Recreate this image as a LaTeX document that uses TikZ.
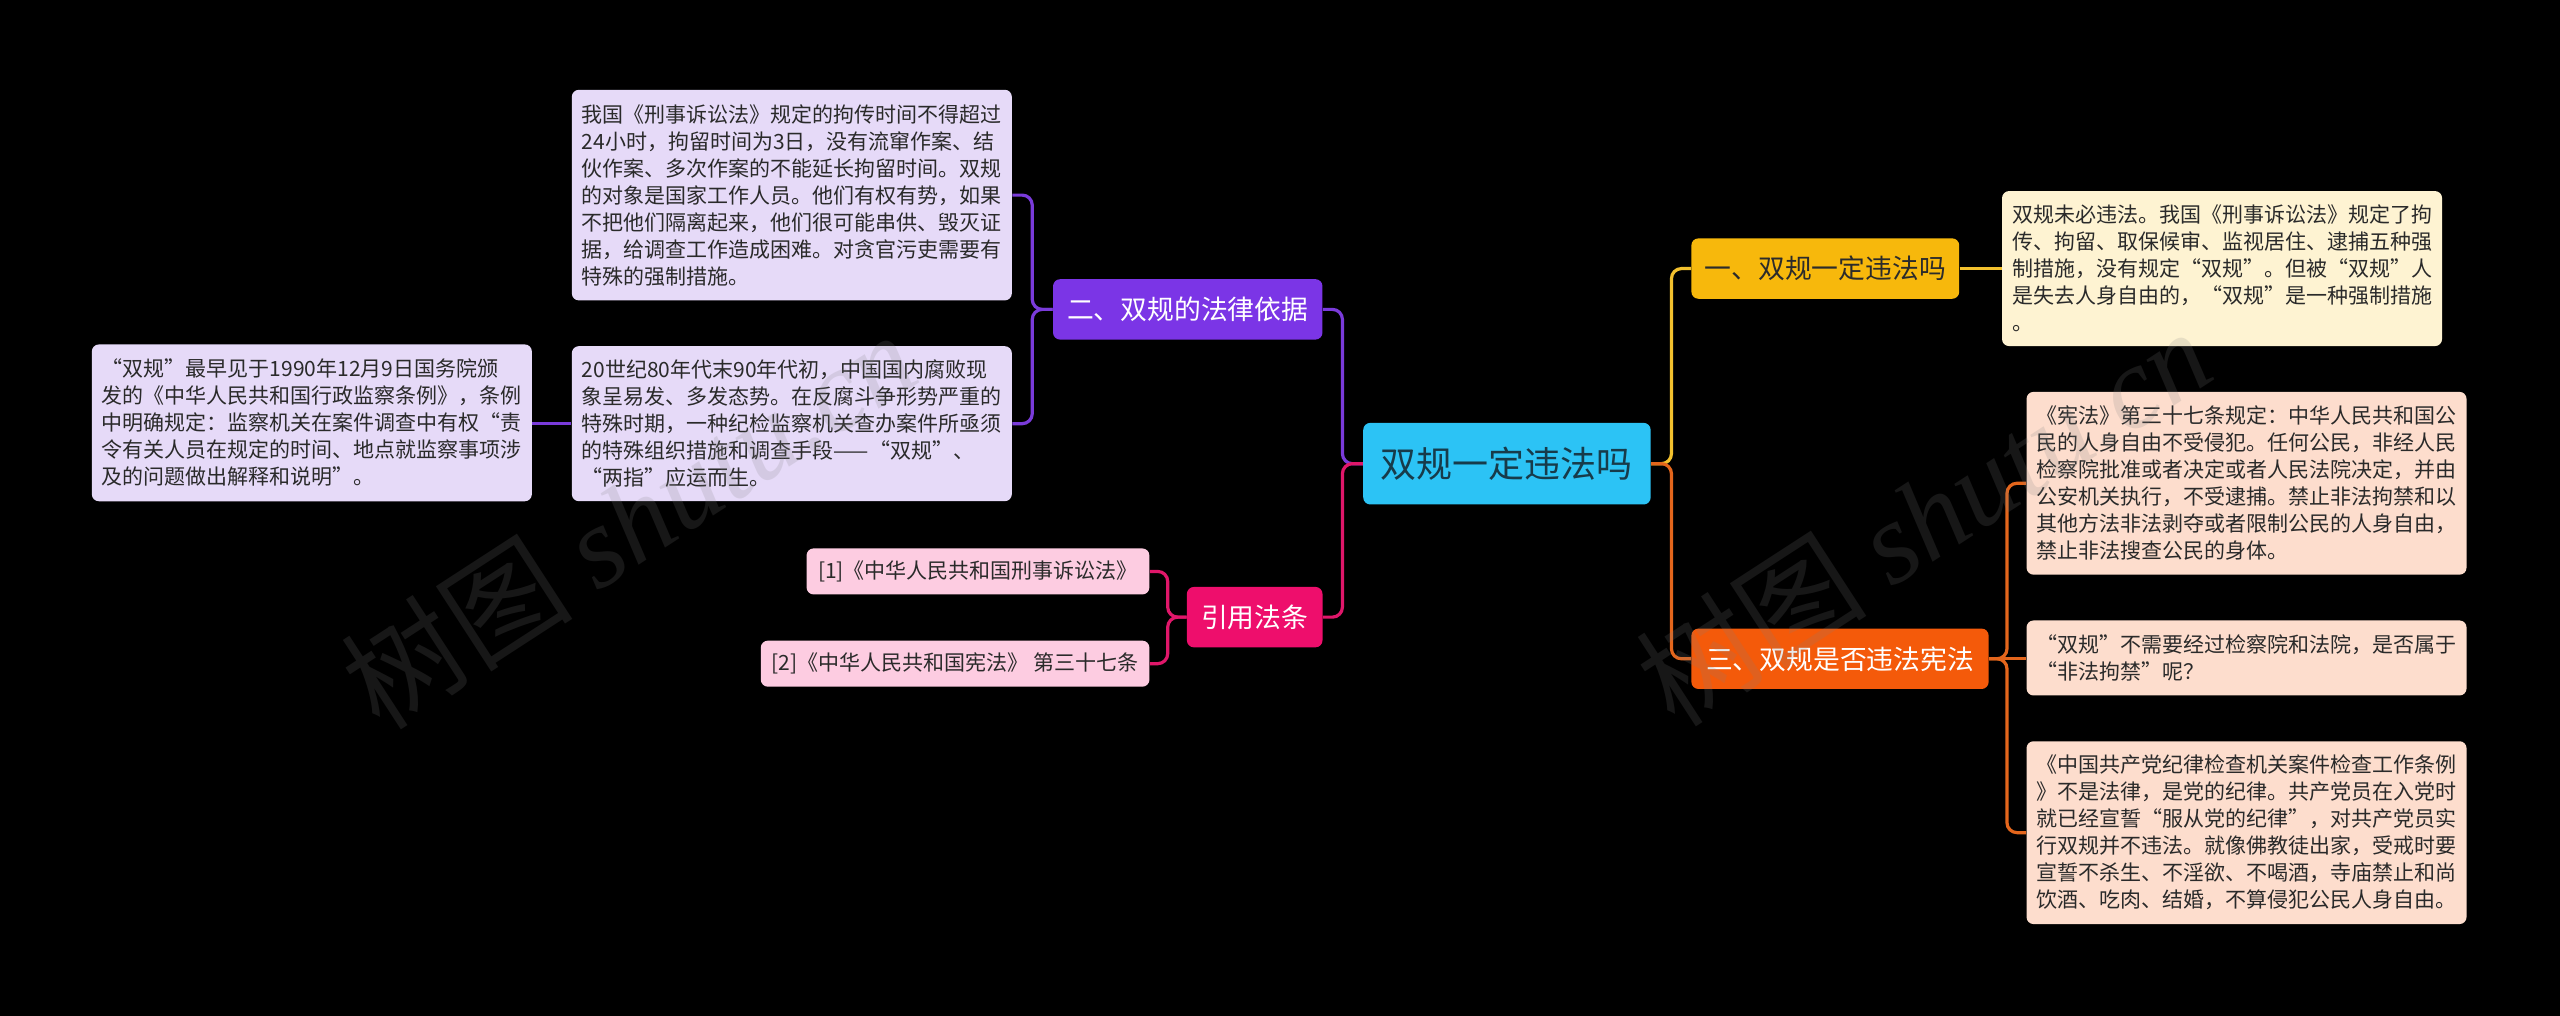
\documentclass[tikz,border=0pt]{standalone}
\usepackage{fontspec}
\setmainfont{Noto Sans CJK SC}
\newfontfamily\wmlatin{Liberation Serif}
\usetikzlibrary{calc}
\definecolor{rootfill}{HTML}{2CC3F5}
\definecolor{roottext}{HTML}{173B4A}
\definecolor{bAfill}{HTML}{F7B80C}
\definecolor{lAfill}{HTML}{FEF3D2}
\definecolor{cA}{HTML}{F3C12E}
\definecolor{bCfill}{HTML}{F45A0A}
\definecolor{lCfill}{HTML}{FDDDCD}
\definecolor{cC}{HTML}{E4661C}
\definecolor{bBfill}{HTML}{7B35E6}
\definecolor{lBfill}{HTML}{E6DAF8}
\definecolor{cB}{HTML}{7A3BDA}
\definecolor{bDfill}{HTML}{EE0E6C}
\definecolor{lDfill}{HTML}{FDCCE1}
\definecolor{cD}{HTML}{E0176A}
\definecolor{leaftext}{HTML}{2A2A2A}
\definecolor{darktext}{HTML}{2B2B2B}
\tikzset{
  box/.style={rounded corners=3.5pt, inner xsep=5pt, inner ysep=1pt, anchor=center},
  leafbox/.style={box, text width=210pt, align=left, text=leaftext,
    font=\fontsize{10.5}{13.5}\selectfont},
  citebox/.style={box, text=leaftext, fill=lDfill, minimum height=23pt,
    font=\fontsize{10.5}{13.5}\selectfont},
  branchbox/.style={box, minimum height=30.2pt, font=\fontsize{13.4}{16}\selectfont},
  ln/.style={line width=1.6pt, rounded corners=5pt},
  wm/.style={rotate=33, text=gray, opacity=0.18, font=\fontsize{58}{60}\selectfont}
}
\begin{document}
\begin{tikzpicture}[x=0.8163pt,y=-0.8163pt]
\fill[black] (0,0) rectangle (1568,622);
\useasboundingbox (0,0) rectangle (1568,622);

% root
\node[box, fill=rootfill, text=roottext, minimum width=143.7pt, minimum height=40.8pt,
  font=\fontsize{18}{20}\selectfont] (root) at (923,284) {双规一定违法吗};

% branches
\node[branchbox, fill=bAfill, text=darktext, minimum width=133.9pt] (b1) at (1118,164.5) {一、双规一定违法吗};
\node[branchbox, fill=bCfill, text=white, minimum width=148.6pt] (b3) at (1127,403.5) {三、双规是否违法宪法};
\node[branchbox, fill=bBfill, text=white, minimum width=134.7pt] (b2) at (727.5,189.5) {二、双规的法律依据};
\node[branchbox, fill=bDfill, text=white, minimum width=67.8pt] (b4) at (768.5,378) {引用法条};

% leaves of branch 1
\node[leafbox, fill=lAfill, minimum height=77.5pt] (l1) at (1361,164.5) {双规未必违法。我国《刑事诉讼法》规定了拘\\传、拘留、取保候审、监视居住、逮捕五种强\\制措施，没有规定“双规”。但被“双规”人\\是失去人身自由的，“双规”是一种强制措施\\。};

% leaves of branch 3
\node[leafbox, fill=lCfill, minimum height=91.4pt] (l3a) at (1376,296) {《宪法》第三十七条规定：中华人民共和国公\\民的人身自由不受侵犯。任何公民，非经人民\\检察院批准或者决定或者人民法院决定，并由\\公安机关执行，不受逮捕。禁止非法拘禁和以\\其他方法非法剥夺或者限制公民的人身自由，\\禁止非法搜查公民的身体。};
\node[leafbox, fill=lCfill, minimum height=37.5pt] (l3b) at (1376,403) {“双规”不需要经过检察院和法院，是否属于\\“非法拘禁”呢？};
\node[leafbox, fill=lCfill, minimum height=91.4pt] (l3c) at (1376,510) {《中国共产党纪律检查机关案件检查工作条例\\》不是法律，是党的纪律。共产党员在入党时\\就已经宣誓“服从党的纪律”，对共产党员实\\行双规并不违法。就像佛教徒出家，受戒时要\\宣誓不杀生、不淫欲、不喝酒，寺庙禁止和尚\\饮酒、吃肉、结婚，不算侵犯公民人身自由。};

% leaves of branch 2
\node[leafbox, fill=lBfill, minimum height=105.3pt] (l2a) at (485,119.5) {我国《刑事诉讼法》规定的拘传时间不得超过\\24小时，拘留时间为3日，没有流窜作案、结\\伙作案、多次作案的不能延长拘留时间。双规\\的对象是国家工作人员。他们有权有势，如果\\不把他们隔离起来，他们很可能串供、毁灭证\\据，给调查工作造成困难。对贪官污吏需要有\\特殊的强制措施。};
\node[leafbox, fill=lBfill, minimum height=77.5pt] (l2b) at (485,259.5) {20世纪80年代末90年代初，中国国内腐败现\\象呈易发、多发态势。在反腐斗争形势严重的\\特殊时期，一种纪检监察机关查办案件所亟须\\的特殊组织措施和调查手段——“双规”、\\“两指”应运而生。};
\node[leafbox, fill=lBfill, minimum height=78.4pt] (l2c) at (191,259) {“双规”最早见于1990年12月9日国务院颁\\发的《中华人民共和国行政监察条例》，条例\\中明确规定：监察机关在案件调查中有权“责\\令有关人员在规定的时间、地点就监察事项涉\\及的问题做出解释和说明”。};

% leaves of branch 4
\node[citebox, minimum width=171.4pt] (l4a) at (599,350) {[1]《中华人民共和国刑事诉讼法》};
\node[citebox, minimum width=194.3pt] (l4b) at (585,406.5) {[2]《中华人民共和国宪法》 第三十七条};

% connectors: root
\draw[ln, cA] (root.east) -- ++(12.5,0) |- (b1.west);
\draw[ln, cC] (root.east) -- ++(12.5,0) |- (b3.west);
\draw[ln, cB] (root.west) -- ++(-12.5,0) |- (b2.east);
\draw[ln, cD] (root.west) -- ++(-12.5,0) |- (b4.east);

% connectors: branch 1
\draw[ln, cA] (b1.east) -- (b1.east -| l1.west);
% connectors: branch 3
\draw[ln, cC] (b3.east) -- ++(11,0) |- (l3a.west);
\draw[ln, cC] (b3.east) -- ++(11,0) |- (l3c.west);
\draw[ln, cC] (b3.east) -- (b3.east -| l3b.west);
% connectors: branch 2
\draw[ln, cB] (b2.west) -- ++(-12.5,0) |- (l2a.east);
\draw[ln, cB] (b2.west) -- ++(-12.5,0) |- (l2b.east);
\draw[ln, cB] (l2b.west) -- (l2b.west -| l2c.east);
% connectors: branch 4
\draw[ln, cD] (b4.west) -- ++(-11.5,0) |- (l4a.east);
\draw[ln, cD] (b4.west) -- ++(-11.5,0) |- (l4b.east);

% watermarks
\node[wm] (wm1) at (385,318) {树图 {\wmlatin\itshape shutu.cn}};
\node[wm] (wm2) at (1178,316) {树图 {\wmlatin\itshape shutu.cn}};
\end{tikzpicture}
\end{document}
